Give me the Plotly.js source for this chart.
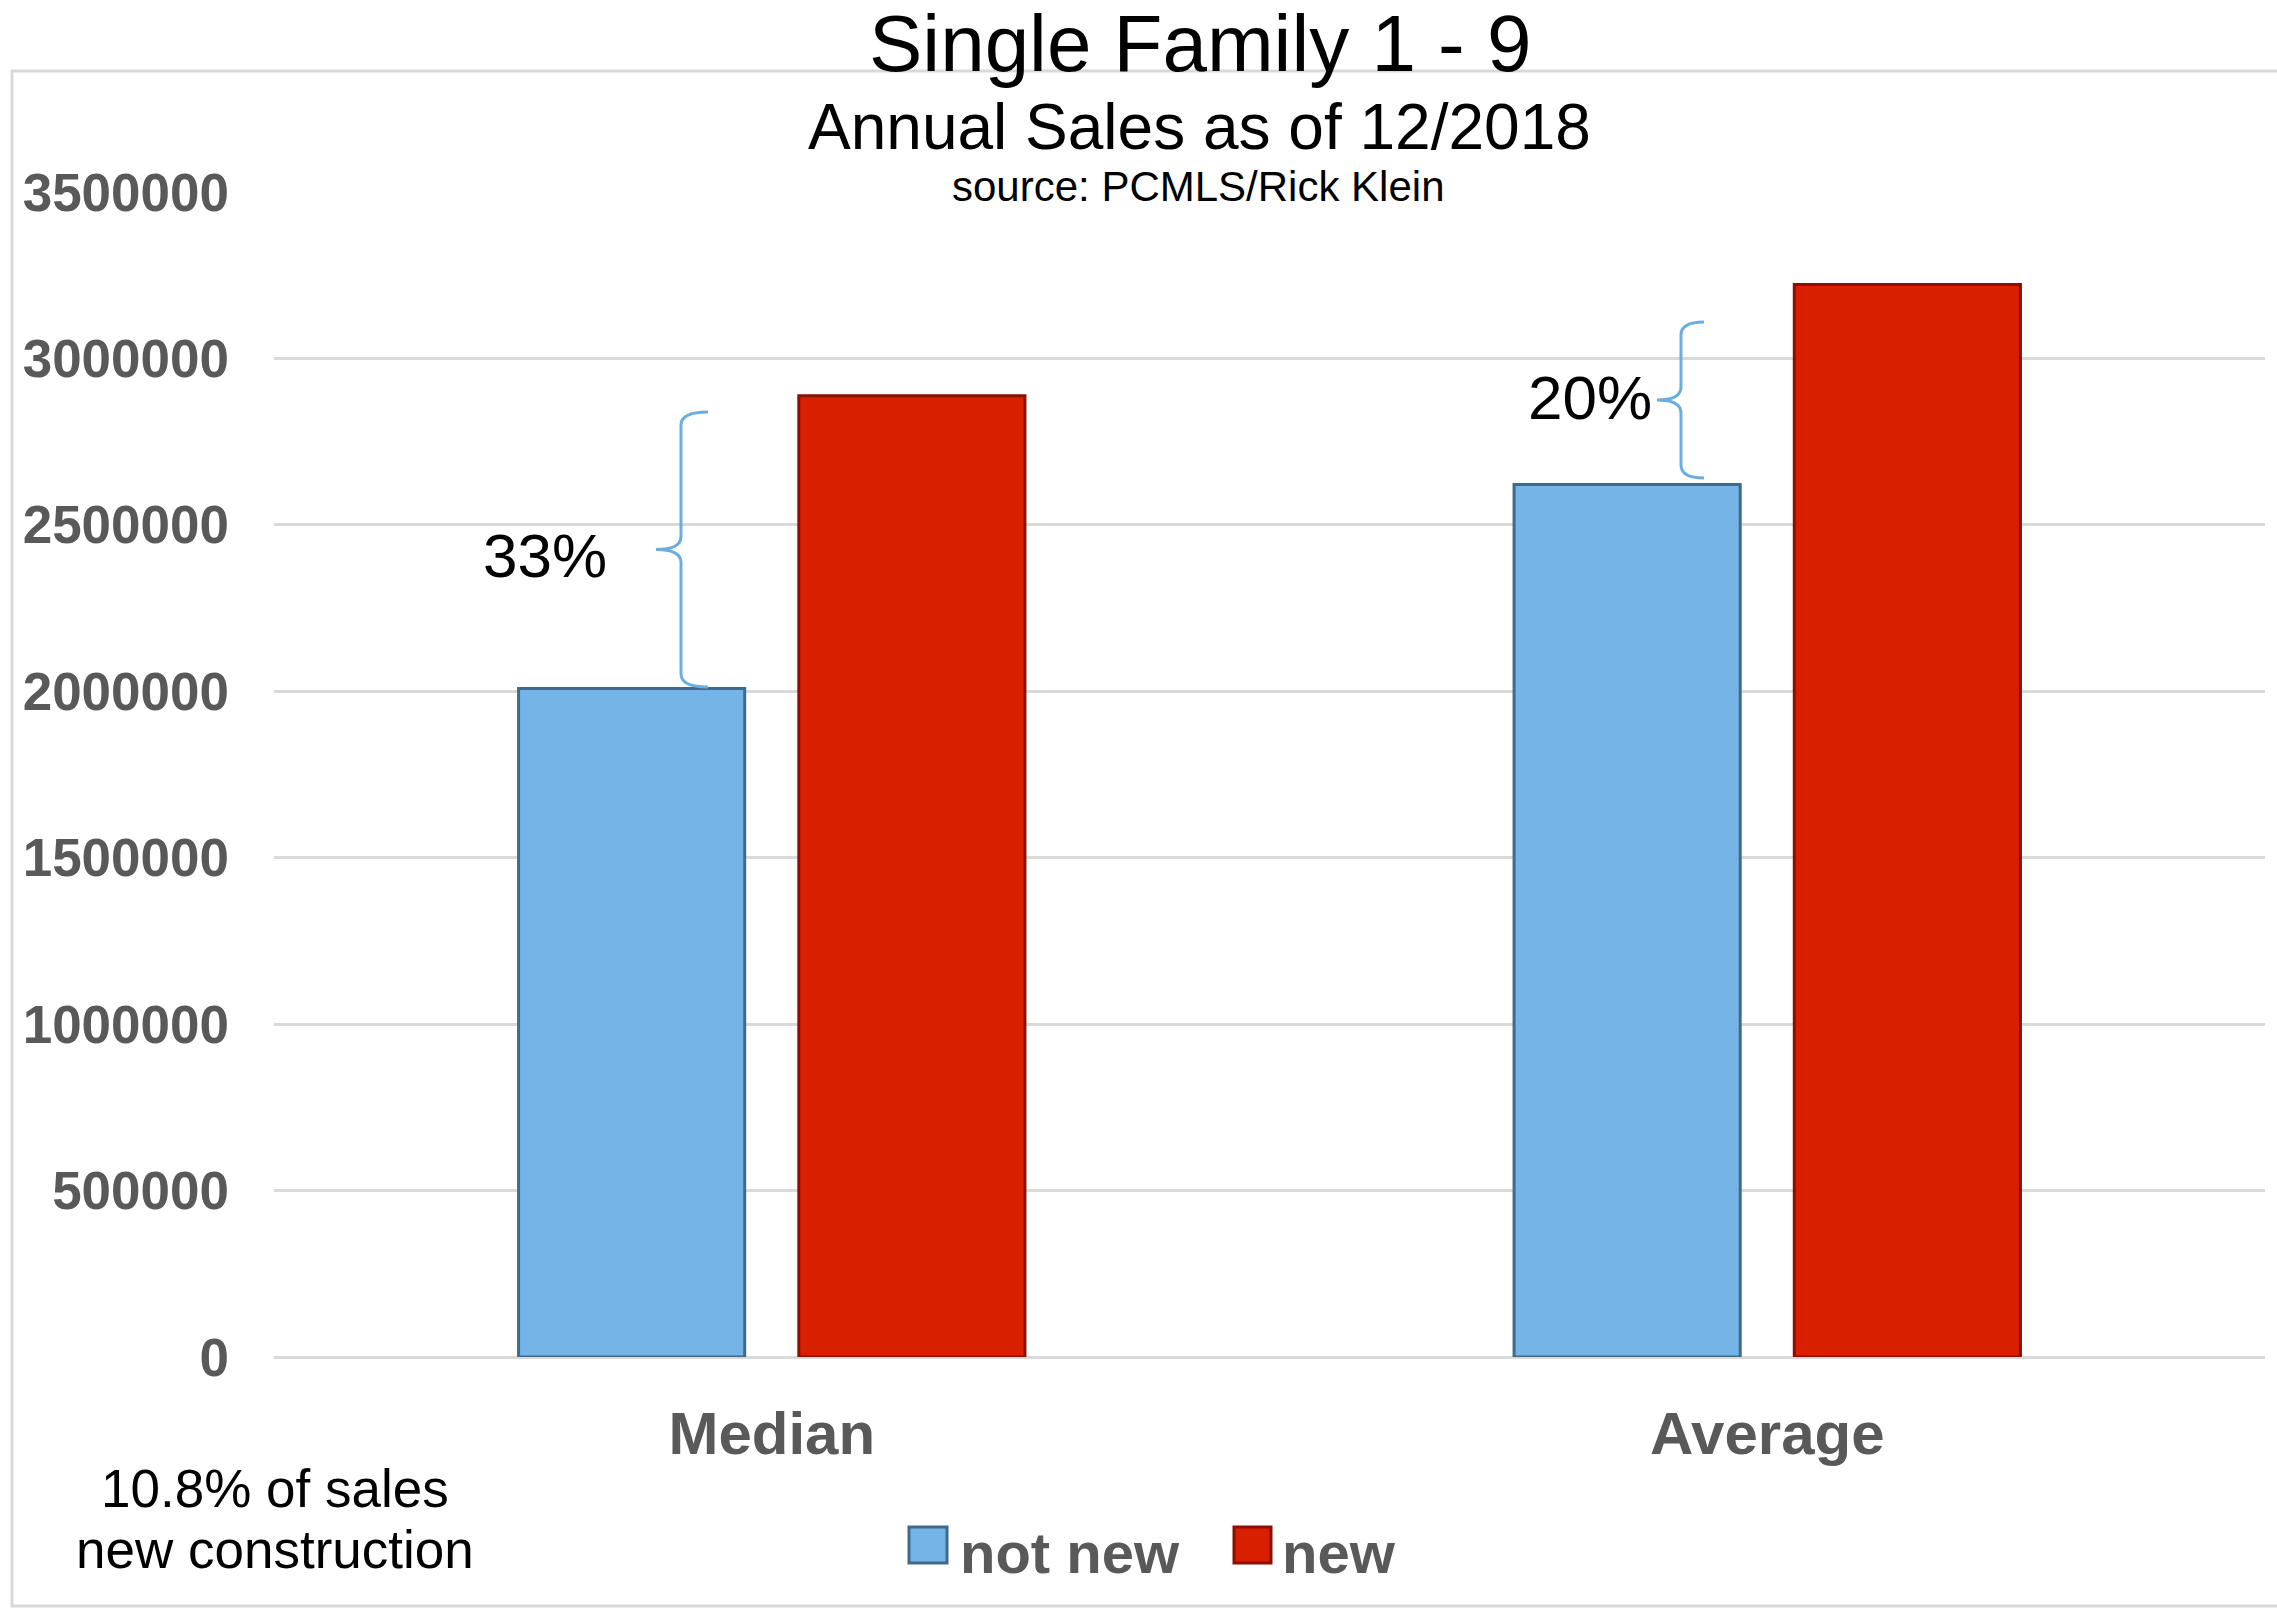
<!DOCTYPE html>
<html>
<head>
<meta charset="utf-8">
<script src="https://cdn.plot.ly/plotly-3.0.1.min.js"></script>
<style>
  html, body { margin: 0; padding: 0; background: #ffffff; }
  #chart { width: 2277px; height: 1612px; }
</style>
</head>
<body>
<div id="chart"></div>
<script>
// ---- data ----
const categories = ['Median', 'Average'];
const notNewValues = [2008000, 2621000];
const newValues = [2888000, 3222000];
const seriesNames = ['not new', 'new'];
const seriesColors = ['#74b4e6', '#d81f00'];
const seriesEdge = ['#3f6a8e', '#8a1000'];
const yTickValues = [0, 500000, 1000000, 1500000, 2000000, 2500000, 3000000, 3500000];
const yTickLabels = ['0', '500000', '1000000', '1500000', '2000000', '2500000', '3000000', '3500000'];
const percentLabels = ['33%', '20%'];
const titleText = 'Single Family 1 - 9';
const subtitleText = 'Annual Sales as of 12/2018';
const sourceText = 'source: PCMLS/Rick Klein';
const footnoteLines = ['10.8% of sales', 'new construction'];

// ---- layout geometry (pixels) ----
const W = 2277, H = 1612;
const plotL = 274, plotR = 2265, plotT = 192, plotB = 1357;
const pw = plotR - plotL, ph = plotB - plotT;
const px = x => (x - plotL) / pw;
const py = y => (plotB - y) / ph;

const FONT = '"Liberation Sans", Arial, Helvetica, sans-serif';
const GRAY = '#595959';
const GRID = '#d9d9d9';
const BRACE = '#6aaee0';

const traces = [
  {
    type: 'bar', name: seriesNames[0], x: categories, y: notNewValues,
    marker: { color: seriesColors[0], line: { color: seriesEdge[0], width: 3 } },
    showlegend: false, hoverinfo: 'x+y+name'
  },
  {
    type: 'bar', name: seriesNames[1], x: categories, y: newValues,
    marker: { color: seriesColors[1], line: { color: seriesEdge[1], width: 3 } },
    showlegend: false, hoverinfo: 'x+y+name'
  }
];

function bracePath(xv, xtip, xmid, ytop, ybot) {
  const ymid = (ytop + ybot) / 2;
  const r = 13;
  const P = (x, y) => px(x).toFixed(5) + ',' + py(y).toFixed(5);
  return 'M' + P(xtip, ytop) + ' Q' + P(xv, ytop) + ' ' + P(xv, ytop + r) +
         ' L' + P(xv, ymid - r) + ' Q' + P(xv, ymid) + ' ' + P(xmid, ymid) +
         ' Q' + P(xv, ymid) + ' ' + P(xv, ymid + r) +
         ' L' + P(xv, ybot - r) + ' Q' + P(xv, ybot) + ' ' + P(xtip, ybot);
}

const shapes = [
  // outer chart border
  { type: 'rect', xref: 'paper', yref: 'paper', x0: px(12), x1: px(2290), y0: py(1606), y1: py(71),
    line: { color: GRID, width: 3 }, fillcolor: 'rgba(0,0,0,0)', layer: 'below' },
  // braces
  { type: 'path', xref: 'paper', yref: 'paper', path: bracePath(681, 708, 656, 412, 687),
    line: { color: BRACE, width: 3 } },
  { type: 'path', xref: 'paper', yref: 'paper', path: bracePath(1681, 1704, 1657, 322, 478),
    line: { color: BRACE, width: 3 } },
  // custom legend swatches
  { type: 'rect', xref: 'paper', yref: 'paper', x0: px(909), x1: px(947), y0: py(1563), y1: py(1527),
    fillcolor: seriesColors[0], line: { color: seriesEdge[0], width: 3 } },
  { type: 'rect', xref: 'paper', yref: 'paper', x0: px(1234), x1: px(1271), y0: py(1563), y1: py(1527),
    fillcolor: seriesColors[1], line: { color: seriesEdge[1], width: 3 } }
];

const ann = (text, x, y, size, opts) => Object.assign({
  text: text, xref: 'paper', yref: 'paper', x: px(x), y: py(y),
  xanchor: 'center', yanchor: 'middle', showarrow: false,
  font: { family: FONT, size: size, color: '#000000' }
}, opts || {});

const annotations = [
  ann(titleText, 1200, 44, 80),
  ann(subtitleText, 1199, 127, 64),
  ann(sourceText, 1198, 187, 42),
  ann(percentLabels[0], 545, 555, 62),
  ann(percentLabels[1], 1590, 398, 62),
  ann(footnoteLines[0], 275, 1488, 53),
  ann(footnoteLines[1], 275, 1549, 53),
  ann(seriesNames[0], 958, 1552, 58, { xanchor: 'left', font: { family: FONT, size: 58, color: GRAY, weight: 'bold' } }),
  ann(seriesNames[1], 1280, 1552, 58, { xanchor: 'left', font: { family: FONT, size: 58, color: GRAY, weight: 'bold' } })
];

const layout = {
  width: W, height: H,
  margin: { l: plotL, r: W - plotR, t: plotT, b: H - plotB, pad: 0 },
  paper_bgcolor: '#ffffff', plot_bgcolor: '#ffffff',
  barmode: 'group', bargap: 0.437, bargroupgap: 0.193,
  showlegend: false,
  font: { family: FONT, color: GRAY },
  xaxis: {
    type: 'category', showgrid: false, showline: false, ticks: '',
    tickfont: { family: FONT, size: 60, color: GRAY, weight: 'bold' },
    ticklabelstandoff: 36
  },
  yaxis: {
    range: [0, 3500000], tickmode: 'array', tickvals: yTickValues, ticktext: yTickLabels,
    showgrid: true, gridcolor: GRID, gridwidth: 3,
    zeroline: true, zerolinecolor: GRID, zerolinewidth: 3,
    showline: false, ticks: '',
    tickfont: { family: FONT, size: 53, color: GRAY, weight: 'bold' },
    ticklabelstandoff: 44
  },
  shapes: shapes,
  annotations: annotations
};

Plotly.newPlot('chart', traces, layout, { staticPlot: true, displayModeBar: false });
</script>
</body>
</html>
